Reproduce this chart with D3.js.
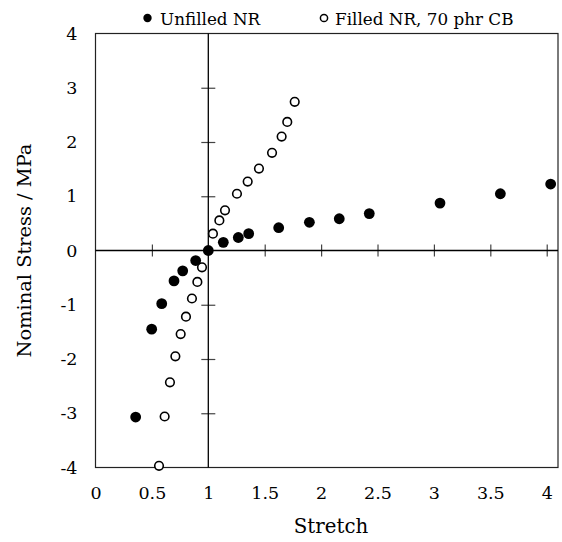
<!DOCTYPE html>
<html>
<head>
<meta charset="utf-8">
<script src="https://cdn.jsdelivr.net/npm/d3@7"></script>
<style>
  html, body { margin: 0; padding: 0; background: #fff; }
  svg { display: block; }
  text { font-family: "DejaVu Serif", "Liberation Serif", serif; fill: #000; }
</style>
</head>
<body>
<svg id="chart" width="562" height="542"></svg>
<script>
// ---- data ----
const unfilledStretch = [0.356, 0.498, 0.587, 0.696, 0.773, 0.888, 1.0, 1.133, 1.266, 1.358, 1.624, 1.896, 2.161, 2.427, 3.054, 3.589, 4.035];
const unfilledStress  = [-3.07, -1.45, -0.98, -0.56, -0.375, -0.185, 0.0, 0.15, 0.24, 0.31, 0.42, 0.52, 0.585, 0.68, 0.874, 1.046, 1.225];

const filledStretch = [0.563, 0.613, 0.660, 0.708, 0.755, 0.802, 0.855, 0.903, 0.944, 1.041, 1.098, 1.148, 1.254, 1.349, 1.449, 1.565, 1.650, 1.700, 1.766];
const filledStress  = [-3.97, -3.06, -2.43, -1.95, -1.54, -1.22, -0.885, -0.58, -0.31, 0.31, 0.555, 0.74, 1.046, 1.27, 1.51, 1.80, 2.10, 2.37, 2.74];

const xTicks = [0, 0.5, 1, 1.5, 2, 2.5, 3, 3.5, 4];
const yTicks = [-4, -3, -2, -1, 0, 1, 2, 3, 4];
const seriesNames = ["Unfilled NR", "Filled NR, 70 phr CB"];

// ---- layout ----
const svg = d3.select("#chart");
const x = d3.scaleLinear().domain([0, 4.1]).range([95.5, 558]);
const y = d3.scaleLinear().domain([-4, 4]).range([467.5, 33.5]);
const fmt = d => String(d);

// plot area box
svg.append("rect")
  .attr("x", x(0)).attr("y", y(4))
  .attr("width", x(4.1) - x(0)).attr("height", y(-4) - y(4))
  .attr("fill", "none").attr("stroke", "#222").attr("stroke-width", 1.2);

// crossing tick marks on the axis lines
const xCross = svg.append("g")
  .attr("transform", `translate(0,${y(0) + 6})`)
  .call(d3.axisBottom(x).tickValues(xTicks.filter(v => v !== 0 && v !== 1)).tickSize(-12).tickFormat(""));
xCross.select(".domain").remove();
xCross.selectAll("line").attr("stroke", "#444").attr("stroke-width", 1.2);

const yCross = svg.append("g")
  .attr("transform", `translate(${x(1) - 7},0)`)
  .call(d3.axisLeft(y).tickValues(yTicks.filter(v => v !== 0 && Math.abs(v) !== 4)).tickSize(-14).tickFormat(""));
yCross.select(".domain").remove();
yCross.selectAll("line").attr("stroke", "#444").attr("stroke-width", 1.2);

// axis lines crossing at (1, 0)
svg.append("line")
  .attr("x1", x(0)).attr("x2", x(4.1)).attr("y1", y(0)).attr("y2", y(0))
  .attr("stroke", "#000").attr("stroke-width", 1.3);
svg.append("line")
  .attr("x1", x(1)).attr("x2", x(1)).attr("y1", y(4)).attr("y2", y(-4))
  .attr("stroke", "#000").attr("stroke-width", 1.3);

// tick labels (low position)
const xLab = svg.append("g")
  .attr("transform", `translate(0,${y(-4)})`)
  .call(d3.axisBottom(x).tickValues(xTicks).tickSize(0).tickPadding(19).tickFormat(fmt));
xLab.select(".domain").remove();
xLab.selectAll("text").style("font-size", "17.5px").attr("fill", "#000");

const yLab = svg.append("g")
  .attr("transform", `translate(${x(0) - 18},0)`)
  .call(d3.axisLeft(y).tickValues(yTicks).tickSize(0).tickPadding(0).tickFormat(fmt));
yLab.select(".domain").remove();
yLab.selectAll("text").style("font-size", "17.5px").attr("fill", "#000");

// axis titles
svg.append("text")
  .attr("x", 331).attr("y", 533)
  .attr("text-anchor", "middle")
  .style("font-size", "19.8px")
  .text("Stretch");

svg.append("text")
  .attr("transform", `translate(31,${y(0)}) rotate(-90)`)
  .attr("text-anchor", "middle")
  .style("font-size", "19.4px")
  .text("Nominal Stress / MPa");

// data points
const unfilled = unfilledStretch.map((v, i) => ({ x: v, y: unfilledStress[i] }));
const filled = filledStretch.map((v, i) => ({ x: v, y: filledStress[i] }));

svg.append("g").selectAll("circle").data(filled).join("circle")
  .attr("cx", d => x(d.x)).attr("cy", d => y(d.y)).attr("r", 4.3)
  .attr("fill", "#fff").attr("stroke", "#000").attr("stroke-width", 1.6);

svg.append("g").selectAll("circle").data(unfilled).join("circle")
  .attr("cx", d => x(d.x)).attr("cy", d => y(d.y)).attr("r", 5.4)
  .attr("fill", "#000");

// legend
const leg = svg.append("g");
leg.append("circle").attr("cx", 147.5).attr("cy", 18).attr("r", 4.2).attr("fill", "#000");
leg.append("text").attr("x", 160).attr("y", 24.5).style("font-size", "16.8px").text(seriesNames[0]);
leg.append("circle").attr("cx", 324).attr("cy", 18).attr("r", 3.6)
  .attr("fill", "#fff").attr("stroke", "#000").attr("stroke-width", 1.5);
leg.append("text").attr("x", 335).attr("y", 24.5).style("font-size", "16.8px").text(seriesNames[1]);
</script>
</body>
</html>
